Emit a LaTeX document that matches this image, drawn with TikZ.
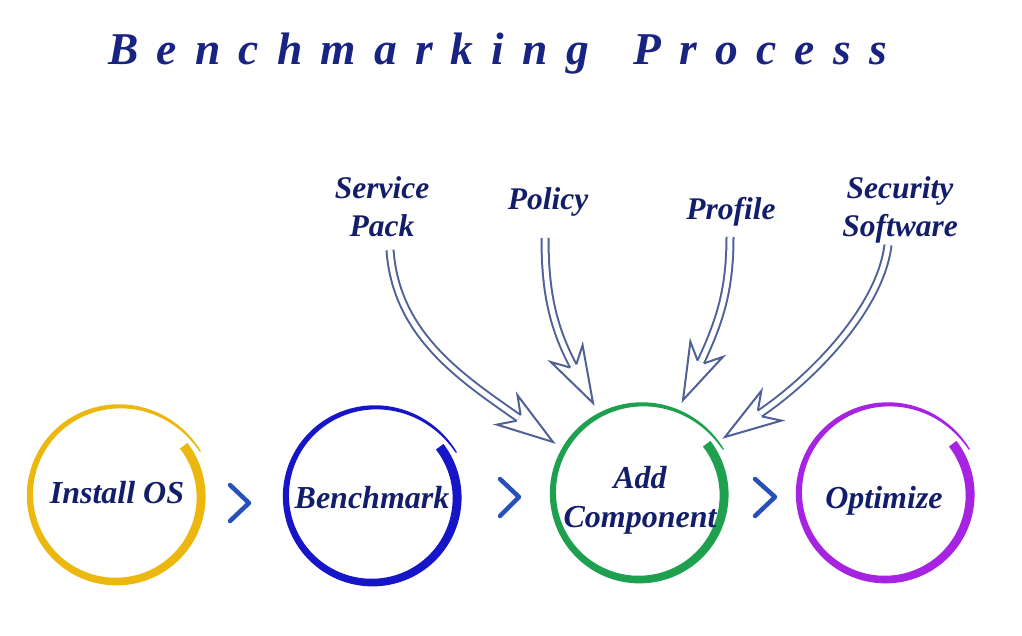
\documentclass[tikz,border=0pt]{standalone}
\usepackage{fontspec}
\setmainfont{Liberation Serif}
\usetikzlibrary{calc}
\definecolor{ringY}{RGB}{236,184,16}
\definecolor{ringB}{RGB}{22,22,200}
\definecolor{ringG}{RGB}{30,160,78}
\definecolor{ringP}{RGB}{165,35,225}
\definecolor{chevc}{RGB}{40,80,185}
\definecolor{arrc}{RGB}{78,98,152}
\definecolor{navy}{RGB}{18,30,105}
\definecolor{titlec}{RGB}{25,35,130}
\tikzset{
  declare function={tt(\a)=(\a+37)/369; rt(\t)=83.5+6*\t+5*(\t*\t*\t*\t)*(\t*\t*\t*\t); rw(\t)=8.5*(1.002-\t)^0.55+0.9;},
  lbl/.style={text=navy, font=\fontsize{31.5}{39}\selectfont\bfseries\itshape, align=center, inner sep=0},
  clbl/.style={text=navy, font=\fontsize{32}{39}\selectfont\bfseries\itshape, align=center, inner sep=0},
  chev/.style={draw=chevc, line width=4.5, line cap=round, line join=round},
  shaft/.style={draw=arrc, line width=2, double=white, double distance=5},
  headline/.style={draw=arrc, line width=2, line join=miter},
}
\newcommand\ringdraw[2]{%
  \begin{scope}[shift={(#1)}]
    \fill[#2] plot[domain=-37:332, samples=150, variable=\x] (\x:{rt(tt(\x))+rw(tt(\x))/2})
      -- plot[domain=332:-37, samples=150, variable=\x] (\x:{rt(tt(\x))-rw(tt(\x))/2}) -- cycle;
  \end{scope}}
\newcommand\inarrow[5]{%
  \draw[shaft] (#1) .. controls #2 and ($(#3)+({#4+180}:{42+#5})$) .. ($(#3)+({#4+180}:42)$);
  \draw[headline] ($(#3)+({#4+184.76}:42.15)$) -- ($(#3)+({#4+197.8}:58.8)$) -- (#3)
     -- ($(#3)+({#4+162.2}:58.8)$) -- ($(#3)+({#4+175.24}:42.15)$);}
\begin{document}
\begin{tikzpicture}[x=1pt,y=-1pt]
\fill[white] (0,0) rectangle (1022,636);
\useasboundingbox (0,0) rectangle (1022,636);
% title
\node[anchor=base west, inner sep=0, text=titlec, font=\fontsize{45.5}{54}\selectfont\bfseries\itshape\addfontfeature{LetterSpace=40}] (title) at (108,65) {Benchmarking\hspace{15pt} Process};
% rings
\coordinate (c1) at (117,496);
\coordinate (c2) at (373,497);
\coordinate (c3) at (640,494);
\coordinate (c4) at (886,494);
\ringdraw{c1}{ringY}
\ringdraw{c2}{ringB}
\ringdraw{c3}{ringG}
\ringdraw{c4}{ringP}
\node[clbl, anchor=base] (t1) at (117,503) {Install OS};
\node[clbl, anchor=base] (t2) at (372,508) {Benchmark};
\node[clbl, anchor=base] (t3) at (640,527) {Add\\Component};
\node[clbl, anchor=base] (t4) at (884,508) {Optimize};
% chevrons
\coordinate (k1a) at (230,485); \coordinate (k1b) at (249,503); \coordinate (k1c) at (230,521);
\coordinate (k2a) at (500,479); \coordinate (k2b) at (519,497); \coordinate (k2c) at (500,516);
\coordinate (k3a) at (755,479); \coordinate (k3b) at (775,497); \coordinate (k3c) at (755,516);
\draw[chev] (k1a) -- (k1b) -- (k1c);
\draw[chev] (k2a) -- (k2b) -- (k2c);
\draw[chev] (k3a) -- (k3b) -- (k3c);
% top labels
\node[lbl, anchor=base] (sp) at (382,237) {Service\\Pack};
\node[lbl, anchor=base] (po) at (548,210) {Policy};
\node[lbl, anchor=base] (pr) at (731,220) {Profile};
\node[lbl, anchor=base] (ss) at (900,237) {Security\\Software};
% arrows
\coordinate (sp0) at (390,250); \coordinate (sp1) at (553,442);
\coordinate (po0) at (545,238); \coordinate (po1) at (593,403);
\coordinate (pr0) at (730,237); \coordinate (pr1) at (683,400);
\coordinate (ss0) at (888,245); \coordinate (ss1) at (725,437);
\inarrow{sp0}{(396,335)}{sp1}{35}{70}
\inarrow{po0}{(545,290)}{po1}{62}{45}
\inarrow{pr0}{(730,290)}{pr1}{115}{45}
\inarrow{ss0}{(880,310)}{ss1}{146}{60}
\end{tikzpicture}
\end{document}
